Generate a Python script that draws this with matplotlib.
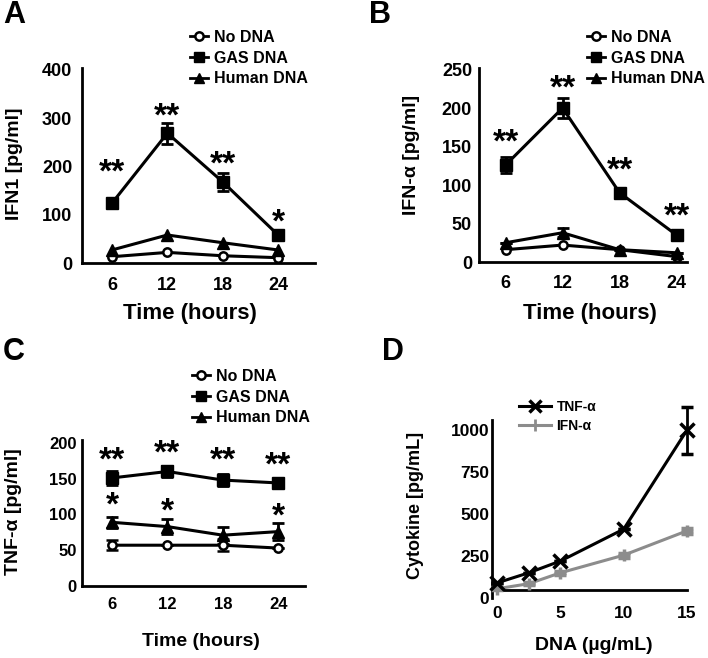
import matplotlib
matplotlib.use("Agg")
import matplotlib.pyplot as plt
from matplotlib.lines import Line2D

plt.rcParams['font.family'] = ['Liberation Sans', 'DejaVu Sans']
plt.rcParams['font.weight'] = 'bold'

# time course data (hours)
hours = [6, 12, 18, 24]
groups = ["No DNA", "GAS DNA", "Human DNA"]

ifn1_no = [13, 22, 15, 11]
ifn1_gas = [124, 269, 168, 58]
ifn1_gas_err = [0, 22, 18, 0]
ifn1_hum = [27, 58, 42, 27]
ifn1_stars = [("**", 197), ("**", 313), ("**", 213), ("*", 93)]

ifna_no = [16, 22, 16, 7]
ifna_gas = [126, 200, 90, 35]
ifna_gas_err = [11, 13, 0, 0]
ifna_hum = [25, 38, 16, 12]
ifna_hum_err = [0, 6, 0, 0]
ifna_stars = [("**", 161), ("**", 230), ("**", 124), ("**", 64)]

tnf_no = [57, 57, 57, 53]
tnf_no_err = [7, 0, 8, 0]
tnf_gas = [151, 160, 148, 144]
tnf_gas_err = [10, 8, 8, 0]
tnf_hum = [89, 83, 71, 76]
tnf_hum_err = [8, 10, 12, 12]
tnf_stars_gas = ["**", "**", "**", "**"]
tnf_stars_gas_y = [180, 190, 180, 172]
tnf_stars_hum = ["*", "*", "", "*"]
tnf_stars_hum_y = [116, 109, 0, 102]

# dose response
dna = [0, 2.5, 5, 10, 15]
dose_tnf = [90, 150, 220, 410, 1000]
dose_tnf_err = [0, 0, 0, 0, 140]
dose_ifn = [55, 85, 150, 255, 400]
dose_ifn_err = [10, 10, 12, 15, 18]

W, H = 708, 658
fig = plt.figure(figsize=(W / 100, H / 100), dpi=100)


def add_ax(left, top, right, bottom):
    return fig.add_axes([left / W, 1 - bottom / H, (right - left) / W, (bottom - top) / H])


def style(ax, tick_size, xpad, ypad):
    for s in ["top", "right"]:
        ax.spines[s].set_visible(False)
    for s in ["left", "bottom"]:
        ax.spines[s].set_linewidth(2)
    ax.tick_params(length=0, labelsize=tick_size)
    ax.tick_params(axis="x", pad=xpad)
    ax.tick_params(axis="y", pad=ypad)
    for lab in ax.get_xticklabels() + ax.get_yticklabels():
        lab.set_fontweight("bold")


def time_panel(ax, no, gas, hum, no_err=None, gas_err=None, hum_err=None):
    kw = dict(color="black", lw=2.2, elinewidth=2, capsize=4, capthick=2, clip_on=False)
    ax.errorbar(hours, no, yerr=no_err, marker="o", ms=6, mfc="white", mec="black", mew=1.8,
                zorder=3, **kw)
    ax.errorbar(hours, gas, yerr=gas_err, marker="s", ms=9, zorder=4, **kw)
    ax.errorbar(hours, hum, yerr=hum_err, marker="^", ms=8, zorder=3, **kw)


def time_handles():
    return [
        Line2D([], [], color="black", lw=2, marker="o", ms=6, mfc="white", mew=1.8),
        Line2D([], [], color="black", lw=2, marker="s", ms=7),
        Line2D([], [], color="black", lw=2, marker="^", ms=7),
    ]


def legend(ax, handles, names, x, y, hl=1.1, size=11.5):
    leg = ax.legend(handles, names, loc="upper left", bbox_to_anchor=(x / W, 1 - y / H),
                    bbox_transform=fig.transFigure, frameon=False, fontsize=size,
                    borderpad=0, borderaxespad=0, handlelength=hl, handletextpad=0.4,
                    labelspacing=0.35)
    for t in leg.get_texts():
        t.set_fontweight("bold")
    return leg


def labels(ax, xl, yl, xc, ylc, size_x, size_y):
    ax.set_xlabel(xl, fontsize=size_x, fontweight="bold", va="center")
    ax.set_ylabel(yl, fontsize=size_y, fontweight="bold", va="center")
    bb = ax.get_position()
    ax.xaxis.set_label_coords((xc[0] / W - bb.x0) / bb.width, ((1 - xc[1] / H) - bb.y0) / bb.height)
    ax.yaxis.set_label_coords((ylc[0] / W - bb.x0) / bb.width, ((1 - ylc[1] / H) - bb.y0) / bb.height)


def stars(ax, xs, marks, ys, size=24):
    for x, m, y in zip(xs, marks, ys):
        if m:
            ax.text(x, y, m, ha="center", va="center", fontsize=size, fontweight="bold",
                    clip_on=False)


# ---- A ----
axA = add_ax(82, 68, 315, 263)
time_panel(axA, ifn1_no, ifn1_gas, ifn1_hum, gas_err=ifn1_gas_err)
axA.set_xlim(2.75, 28)
axA.set_ylim(0, 404)
axA.set_xticks(hours)
axA.set_yticks([0, 100, 200, 300, 400])
style(axA, 13, 10, 7)
stars(axA, hours, [s for s, _ in ifn1_stars], [v - 10 for _, v in ifn1_stars])
legend(axA, time_handles(), groups, 190, 30)
labels(axA, "Time (hours)", "IFN1 [pg/ml]", (190, 313), (15, 164), 16, 14)

# ---- B ----
axB = add_ax(479, 68, 687, 262)
time_panel(axB, ifna_no, ifna_gas, ifna_hum, gas_err=ifna_gas_err, hum_err=ifna_hum_err)
axB.set_xlim(3.2, 25.1)
axB.set_ylim(0, 252)
axB.set_xticks(hours)
axB.set_yticks([0, 50, 100, 150, 200, 250])
style(axB, 13, 9, 5)
stars(axB, hours, [s for s, _ in ifna_stars], [v - 6 for _, v in ifna_stars])
legend(axB, time_handles(), groups, 587, 30)
labels(axB, "Time (hours)", "IFN-α [pg/ml]", (590, 313), (412, 155), 16, 14)

# ---- C ----
axC = add_ax(82, 440, 305, 586)
time_panel(axC, tnf_no, tnf_gas, tnf_hum, no_err=tnf_no_err, gas_err=tnf_gas_err,
           hum_err=tnf_hum_err)
axC.set_xlim(2.75, 26.9)
axC.set_ylim(0, 204)
axC.set_xticks(hours)
axC.set_yticks([0, 50, 100, 150, 200])
style(axC, 12, 8, 3.6)
stars(axC, hours, tnf_stars_gas, [v - 5 for v in tnf_stars_gas_y])
stars(axC, hours, tnf_stars_hum, [v - 5 for v in tnf_stars_hum_y])
legend(axC, time_handles(), groups, 192, 369)
labels(axC, "Time (hours)", "TNF-α [pg/ml]", (201, 642), (14, 512), 14, 14)

# ---- D ----
axD = add_ax(492, 420, 687, 598)
axD.errorbar(dna, dose_tnf, yerr=dose_tnf_err, color="black", lw=2.2, marker="x", ms=10,
             mew=2.5, elinewidth=2, capsize=4, capthick=2, clip_on=False, zorder=4)
axD.errorbar(dna, dose_ifn, yerr=dose_ifn_err, color="#8c8c8c", lw=2.2, marker="+", ms=9,
             mew=2.5, elinewidth=2, capsize=4, capthick=2, clip_on=False, zorder=3)
axD.set_xlim(-0.4, 14.7)
axD.set_ylim(0, 1060)
axD.set_xticks([0, 5, 10, 15])
axD.set_yticks([0, 250, 500, 750, 1000])
style(axD, 12.5, 11.5, 2)
axD.spines["bottom"].set_position(("data", 45))
dose_handles = [
    Line2D([], [], color="black", lw=2.2, marker="x", ms=8, mew=2.5),
    Line2D([], [], color="#8c8c8c", lw=2.2, marker="+", ms=8, mew=2),
]
legend(axD, dose_handles, ["TNF-α", "IFN-α"], 519, 400, hl=2.3, size=10)
labels(axD, "DNA (µg/mL)", "Cytokine [pg/mL]", (594, 645), (416, 505), 14, 13)

# panel letters
for letter, x, y in [("A", 3, 15), ("B", 369, 15), ("C", 3, 352), ("D", 382, 352)]:
    fig.text(x / W, 1 - y / H, letter, fontsize=22, fontweight="bold", ha="left", va="center")

fig.savefig("out.png", dpi=100)
